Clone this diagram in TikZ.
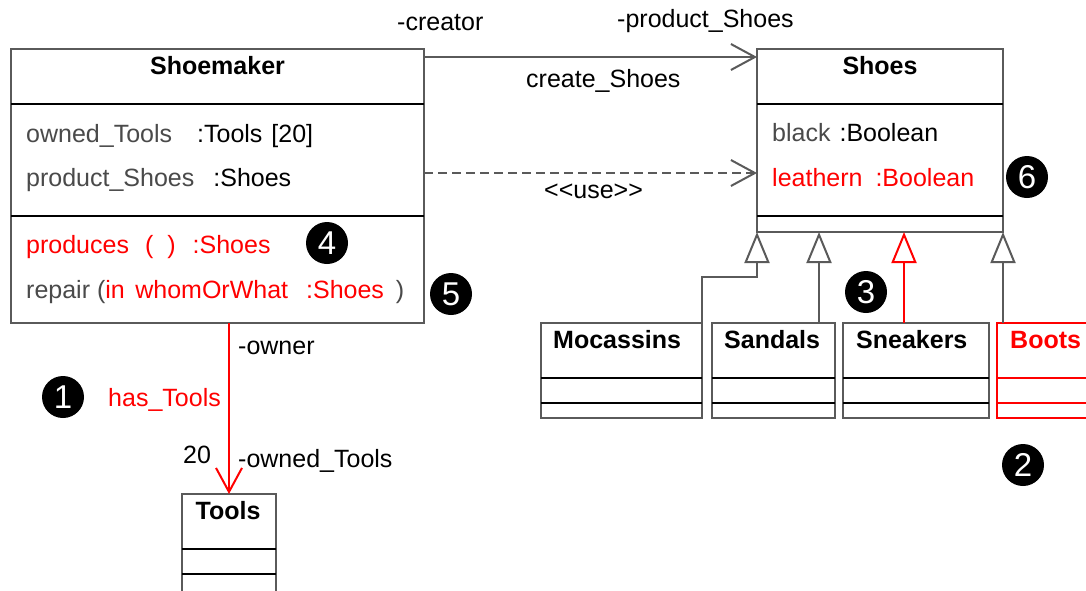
\documentclass[tikz,border=0pt]{standalone}
\usepackage{fontspec}
\setmainfont{Liberation Sans}
\usetikzlibrary{arrows.meta}
\definecolor{umlgray}{HTML}{5A5A5A}
\definecolor{namegray}{HTML}{4A4A4A}
\definecolor{umlred}{HTML}{FF0000}

\begin{document}
\begin{tikzpicture}[x=1pt,y=-1pt,
  every node/.style={font=\fontsize{25}{30}\selectfont, inner sep=0pt},
  classbox/.style={draw=umlgray, line width=2pt, fill=white, inner sep=0pt, outer sep=0pt, anchor=north west},
  redbox/.style={classbox, draw=umlred},
  sep/.style={black, line width=2pt},
  redsep/.style={umlred, line width=2pt},
  txt/.style={anchor=base west},
  ttl/.style={font=\fontsize{25}{30}\selectfont\bfseries},
  badge/.style={circle, fill=black, text=white, minimum size=42pt, inner sep=0pt, font=\fontsize{33}{33}\selectfont},
  link/.style={umlgray, line width=2pt},
  openhead/.style={-{Straight Barb[length=24pt,width=26pt]}},
  gen/.style={umlgray, line width=2pt, -{Triangle[open, length=31pt, width=25pt, fill=white]}},
]
\useasboundingbox (0,0) rectangle (1086,590);
\clip (0,0) rectangle (1086,590);

% ---------- Shoemaker ----------
\node[classbox, minimum width=413pt, minimum height=274pt] (shoemaker) at (11,49) {};
\draw[sep] (shoemaker.west |- 0,104) -- (shoemaker.east |- 0,104);
\draw[sep] (shoemaker.west |- 0,216) -- (shoemaker.east |- 0,216);
\node[ttl, anchor=base] (sm-title) at (217.5,74) {Shoemaker};
\node[txt] (sm-a1) at (26,142) {\textcolor{namegray}{owned\_Tools}\hspace*{25pt}:Tools\hspace*{9pt}[20]};
\node[txt] (sm-a2) at (26,186) {\textcolor{namegray}{product\_Shoes}\hspace*{19pt}:Shoes};
\node[txt, text=umlred] (sm-o1) at (26,253) {produces\hspace*{16pt}(\hspace*{14pt})\hspace*{17pt}:Shoes};
\node[txt] (sm-o2) at (26,298) {\textcolor{namegray}{repair (}\textcolor{umlred}{in\hspace*{10.5pt}whomOrWhat\hspace*{18pt}:Shoes}\textcolor{namegray}{\hspace*{12pt})}};

% ---------- Shoes ----------
\node[classbox, minimum width=246pt, minimum height=183pt] (shoes) at (757,49) {};
\draw[sep] (shoes.west |- 0,104) -- (shoes.east |- 0,104);
\draw[sep] (shoes.west |- 0,216) -- (shoes.east |- 0,216);
\node[ttl, anchor=base] (sh-title) at (880,74) {Shoes};
\node[txt] (sh-a1) at (772,141) {\textcolor{namegray}{black}\hspace*{9pt}:Boolean};
\node[txt, text=umlred] (sh-a2) at (772,186) {leathern\hspace*{13pt}:Boolean};

% ---------- Subclasses ----------
\node[classbox, minimum width=161pt, minimum height=95pt] (moc) at (541,323) {};
\node[classbox, minimum width=123pt, minimum height=95pt] (sand) at (712,323) {};
\node[classbox, minimum width=146pt, minimum height=95pt] (sneak) at (843,323) {};
\node[redbox, minimum width=130pt, minimum height=95pt] (boots) at (997,323) {};
\foreach \b in {moc,sand,sneak} {
  \draw[sep] (\b.west |- 0,378) -- (\b.east |- 0,378);
  \draw[sep] (\b.west |- 0,403) -- (\b.east |- 0,403);
}
\draw[redsep] (boots.west |- 0,378) -- (boots.east |- 0,378);
\draw[redsep] (boots.west |- 0,403) -- (boots.east |- 0,403);
\node[ttl, txt] (moc-title) at (553,348) {Mocassins};
\node[ttl, txt] (sand-title) at (724,348) {Sandals};
\node[ttl, txt] (sneak-title) at (856,348) {Sneakers};
\node[ttl, txt, text=umlred] (boots-title) at (1010,348) {Boots};

% ---------- Tools ----------
\node[classbox, minimum width=94pt, minimum height=98pt] (tools) at (182,494) {};
\draw[sep] (tools.west |- 0,549) -- (tools.east |- 0,549);
\draw[sep] (tools.west |- 0,574) -- (tools.east |- 0,574);
\node[ttl, anchor=base] (tools-title) at (228,519) {Tools};

% ---------- Associations ----------
\draw[link, openhead] (shoemaker.north east |- 0,57) -- (shoes.north west |- 0,57);
\node[txt] (lbl-creator) at (397,30) {-creator};
\node[txt] (lbl-product) at (617,27) {-product\_Shoes};
\node[txt] (lbl-create) at (526,87) {create\_Shoes};

\draw[link, dash pattern=on 9pt off 5pt, openhead] (shoemaker.north east |- 0,173) -- (shoes.north west |- 0,173);
\node[txt] (lbl-use) at (544,198) {<\kern0pt<use>\kern0pt>};

\draw[umlred, line width=2pt, openhead] (tools.north |- shoemaker.south) -- (tools.north);
\node[txt] (lbl-owner) at (238,354) {-owner};
\node[anchor=base east, text=umlred] (lbl-has) at (221,406) {has\_Tools};
\node[txt] (lbl-20) at (183,463) {20};
\node[txt] (lbl-owned) at (238,467) {-owned\_Tools};

% ---------- Generalizations ----------
\draw[gen] (moc.north east) -- ++(0,-46) -| (shoes.south west);
\draw[gen] (819,323) -- (819,232);
\draw[gen, draw=umlred] (904,323) -- (904,232);
\draw[gen] (boots.north west -| shoes.south east) -- (shoes.south east);

% ---------- Markers ----------
\node[badge] (m1) at (63,397) {1};
\node[badge] (m2) at (1023,465) {2};
\node[badge] (m3) at (866,292) {3};
\node[badge] (m4) at (327,243) {4};
\node[badge] (m5) at (451,294) {5};
\node[badge] (m6) at (1027,177) {6};
\end{tikzpicture}
\end{document}
